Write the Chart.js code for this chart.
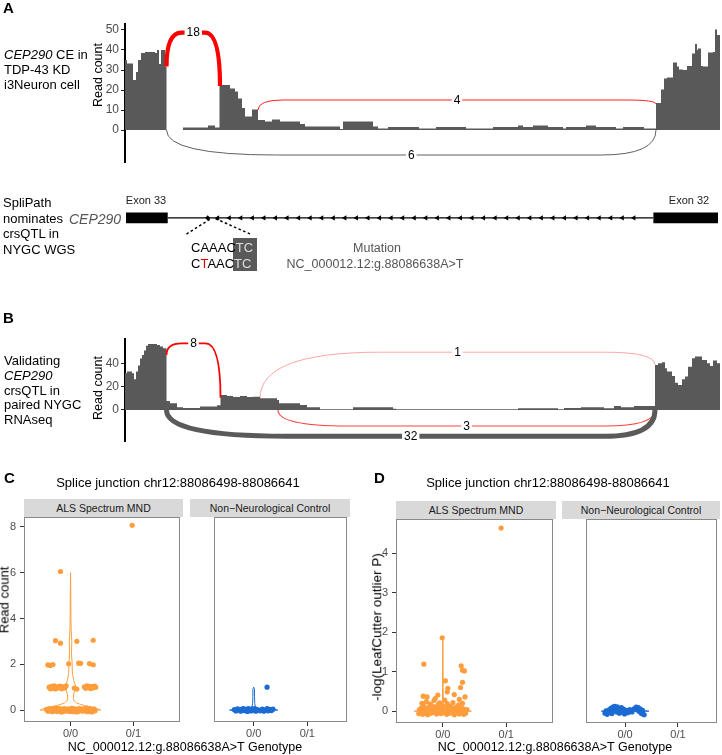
<!DOCTYPE html>
<html><head><meta charset="utf-8">
<script src="https://cdn.jsdelivr.net/npm/chart.js@4.4.1/dist/chart.umd.min.js"></script>
<style>
html,body{margin:0;padding:0;background:#fff;}
body{width:722px;height:755px;position:relative;overflow:hidden;font-family:"Liberation Sans",Arial,sans-serif;color:#000;}
canvas{position:absolute;}
.L{position:absolute;white-space:nowrap;transform:translateY(-50%);line-height:1.15;}
.C{position:absolute;white-space:nowrap;transform:translate(-50%,-50%);line-height:1.15;}
.R{position:absolute;white-space:nowrap;transform:translate(-50%,-50%) rotate(-90deg);line-height:1.15;}
.blk{position:absolute;white-space:nowrap;}
.lt{font-weight:bold;font-size:15px;}
.strip{position:absolute;background:#d9d9d9;box-sizing:border-box;font-size:10.5px;color:#1a1a1a;display:flex;align-items:center;justify-content:center;white-space:nowrap;}
</style></head><body>
<canvas id="cA" width="722" height="190" style="left:0;top:0"></canvas>
<canvas id="cG" width="722" height="50" style="left:0;top:195px"></canvas>
<canvas id="cB" width="722" height="160" style="left:0;top:300px"></canvas>
<canvas id="cC1" width="184" height="237" style="left:0;top:505px"></canvas>
<canvas id="cC2" width="161" height="237" style="left:190px;top:505px"></canvas>
<canvas id="cD1" width="185" height="236" style="left:372px;top:507px"></canvas>
<canvas id="cD2" width="159" height="236" style="left:562px;top:507px"></canvas>

<div class="L lt" style="left:3px;top:8px">A</div>
<div class="blk" style="left:4px;top:46.5px;line-height:15px;font-size:13px"><i>CEP290</i> CE in<br>TDP-43 KD<br>i3Neuron cell</div>
<div class="R" style="left:98px;top:75px;font-size:12.5px">Read count</div>

<div class="blk" style="left:3px;top:195.2px;line-height:15.6px;font-size:13px">SpliPath<br>nominates<br>crsQTL in<br>NYGC WGS</div>
<div class="L" style="left:69px;top:219px;font-size:14px;font-style:italic;color:#555">CEP290</div>
<div class="C" style="left:146px;top:200px;font-size:11px;color:#222">Exon 33</div>
<div class="C" style="left:689px;top:200px;font-size:11px;color:#222">Exon 32</div>
<div style="position:absolute;left:233px;top:238px;width:24px;height:33px;background:#595959"></div>
<div class="L" style="left:191px;top:248px;font-size:13px">CAAAC<span style="color:#ddd">TC</span></div>
<div class="L" style="left:191px;top:264px;font-size:13px">C<span style="color:#e60000">T</span>AAC<span style="color:#ddd">TC</span></div>
<div class="C" style="left:377px;top:248px;font-size:12.5px;color:#555">Mutation</div>
<div class="C" style="left:375px;top:264px;font-size:12.5px;color:#555">NC_000012.12:g.88086638A&gt;T</div>

<div class="L lt" style="left:3px;top:318px">B</div>
<div class="blk" style="left:4px;top:354.4px;line-height:14.65px;font-size:13px">Validating<br><i>CEP290</i><br>crsQTL in<br>paired NYGC<br>RNAseq</div>
<div class="R" style="left:98px;top:388px;font-size:12.5px">Read count</div>

<div class="L lt" style="left:4px;top:478px">C</div>
<div class="C" style="left:178px;top:483px;font-size:13px">Splice junction chr12:88086498-88086641</div>
<div class="strip" style="left:24px;top:499px;width:159px;height:18px">ALS Spectrum MND</div>
<div class="strip" style="left:190px;top:499px;width:160px;height:18px">Non−Neurological Control</div>
<div class="R" style="left:5px;top:600px;font-size:13px">Read count</div>
<div class="C" style="left:185px;top:747px;font-size:12.5px">NC_000012.12:g.88086638A&gt;T Genotype</div>

<div class="L lt" style="left:374px;top:478px">D</div>
<div class="C" style="left:548px;top:483px;font-size:13px">Splice junction chr12:88086498-88086641</div>
<div class="strip" style="left:396px;top:501px;width:160px;height:18px">ALS Spectrum MND</div>
<div class="strip" style="left:562px;top:501px;width:158px;height:18px">Non−Neurological Control</div>
<div class="R" style="left:377px;top:627px;font-size:13.5px">-log(LeafCutter outlier P)</div>
<div class="C" style="left:555px;top:747px;font-size:12.5px">NC_000012.12:g.88086638A&gt;T Genotype</div>

<script>
// ================= DATA =================
// Panel A coverage: step breakpoints (relative genomic position) and read counts (value holds until next breakpoint)
const covA_pos = [0,2,8,11,13,16,20,30,32,34,36,40,41.5,58,83,90,94.5,105,110,113,117,120,127,133,140,147,155,175,180,215,218,248,253,263,294,311,341,368,393,398,408,423,438,441,461,471,491,498,519,531,536,539,542,548,552,554,558,562,567,570,572,573,576,578,583,588,590,592,595];
const covA_val = [35,33.3,25,29,35,38.5,39,38.5,40,33,40,31.7,0,1.3,2.3,1.3,22.5,20.8,19.2,15.8,11,6.7,10.3,5,4.2,5.3,4.2,3,1.7,0.5,4.2,1.7,0.7,1.5,0.8,1.5,0.8,1.5,2.3,1.5,2.3,1.5,0.8,1.5,2.3,1.5,0.8,1.5,0.8,13.5,20.3,25.8,26.3,33.7,31.7,30.3,30,32,38.3,43,40,40.8,32,31.7,38.7,39,50.3,47.5,47.5];
// Panel A junctions
const junA_start = [41.5, 133, 41.5];
const junA_end   = [95, 531, 531];
const junA_count = [18, 4, 6];
const junA_y0    = [31.7, 10, 0];
const junA_y1    = [22, 13, 0];
const junA_apex  = [48.7, 15, -12.5];
const ticksA = [0,10,20,30,40,50];

// Panel B coverage
const covB_pos = [0,2,7,9,11,13,15,17,19,21,23,32,35,38,41.5,45,52,58,75,92,95.5,102,108,115,122,128,135,152,154,175,182,195,228,268,271,393,433,439,456,479,489,496,509,530,533,537,540,542,547,550,553,557,560,563,567,570,577,582,585,588,592,595];
const covB_val = [31.4,32.9,31.4,26.3,33,38,44,47,51,55,56.6,55.7,54.3,52.8,7.7,5.7,2.3,1.7,2.9,4,12.9,12,11,12,11,11.4,10,8.6,5.7,4.3,2.3,0.5,2.3,1.1,0.5,1.4,0.5,1.7,2.3,1.4,3.4,2.3,3.4,38.6,40,40.9,35.7,32.9,29.1,23.4,21.4,26.3,28.6,37.1,44.3,45.7,42.9,40,37.7,42.3,40,40];
// Panel B junctions
const junB_start = [41.5, 135, 153, 41.5];
const junB_end   = [95.5, 530, 530, 530];
const junB_count = [8, 1, 3, 32];
const junB_y0    = [47, 10, 0, 0];
const junB_y1    = [10.5, 38.6, 0, 0];
const junB_apex  = [57, 49.5, -13.7, -22.5];
const ticksB = [0,20,40];

// Gene model (relative genomic position)
const exon33 = [1, 43];
const exon32 = [530, 595];
const mutationPos = 83;
const strandArrows = [93,104.6,116.2,127.8,139.4,151,162.6,174.2,185.8,197.4,209,220.6,232.2,243.8,255.4,267,278.6,290.2,301.8,313.4,325,336.6,348.2,359.8,371.4,383,394.6,406.2,417.8,429.4,441,452.6,464.2,475.8,487.4,499,510.6];

// Panels C / D
const genotypes = ['0/0','0/1'];
// C: ALS Spectrum MND read counts (x = genotype index + jitter)
const cAls_x = [0.62,0.64,0.66,0.67,0.69,0.71,0.72,0.74,0.75,0.77,0.79,0.80,0.82,0.83,0.85,0.87,0.88,0.90,0.91,0.93,0.95,0.96,0.98,0.99,1.01,1.03,1.04,1.06,1.07,1.09,1.11,1.12,1.14,1.15,1.17,1.19,1.20,1.22,1.23,1.25,1.27,1.28,1.30,1.31,1.33,1.35,1.37,1.39,0.65,0.78,0.86,0.94,1.02,1.10,1.18,1.26,1.34,0.70,1.00,1.13,
  0.66,0.68,0.70,0.72,0.74,0.76,0.79,0.81,0.83,0.86,0.88,0.91,0.93,1.06,1.10,1.22,1.24,1.26,1.28,1.30,1.32,1.34,1.36,1.38,1.40,
  0.64,0.68,0.72,0.97,1.13,1.16,1.30,1.36,
  0.76,0.84,1.10,1.36,
  0.84,
  1.98];
const cAls_y = [0.03,-0.05,0.06,-0.02,0.04,-0.07,0.01,0.07,-0.04,0.02,-0.06,0.05,-0.01,0.06,-0.07,0.03,-0.03,0.07,-0.05,0.02,-0.02,0.05,-0.06,0.04,-0.03,0.06,-0.07,0.01,0.05,-0.04,0.03,-0.06,0.07,-0.01,0.04,-0.05,0.02,0.06,-0.03,0.05,-0.07,0.01,0.06,-0.04,0.03,-0.02,0.05,-0.03,0.0,0.08,-0.08,0.0,0.08,-0.08,0.0,0.08,-0.08,0.0,0.0,0.0,
  1.0,0.93,1.04,0.95,1.06,0.92,1.02,0.97,1.05,0.93,1.03,0.97,1.06,0.96,0.92,1.02,0.95,1.06,0.99,1.04,0.94,1.03,0.97,1.05,1.0,
  1.97,1.95,1.99,2.02,2.05,2.04,2.03,1.98,
  3.03,2.92,3.0,3.05,
  6.05,
  8.07];
// C: Non-Neurological Control read counts
const cCtl_x = [0.64,0.67,0.70,0.73,0.76,0.78,0.81,0.83,0.86,0.88,0.90,0.92,0.95,0.97,0.99,1.02,1.04,1.07,1.12,1.16,1.19,1.22,1.25,1.27,1.30,1.33,1.36,1.25];
const cCtl_y = [0.02,-0.04,0.05,0.0,-0.05,0.04,0.07,-0.02,0.03,-0.06,0.06,0.01,-0.04,0.05,-0.01,0.06,-0.05,0.02,-0.03,0.04,-0.05,0.01,0.06,-0.03,0.03,-0.02,0.04,1.0];
// C violins (genotype 0/0): levels and half widths
const vCAls_y = [0,0.05,0.1,0.15,0.2,0.3,0.4,0.5,0.7,0.9,1.0,1.1,1.3,1.6,2,2.5,3,3.5,4,5,6];
const vCAls_w = [0.48,0.44,0.38,0.3,0.22,0.1,0.06,0.045,0.05,0.075,0.08,0.075,0.05,0.03,0.025,0.015,0.02,0.01,0.006,0.004,0];
const vCCtl_y = [0,0.03,0.08,0.15,0.3,0.6,0.9,1.0];
const vCCtl_w = [0.45,0.3,0.08,0.03,0.02,0.015,0.015,0];
// D: ALS -log(LeafCutter outlier P)
const dAls_x = [0.62,0.63,0.65,0.66,0.68,0.69,0.70,0.72,0.73,0.75,0.76,0.78,0.79,0.81,0.82,0.84,0.85,0.87,0.88,0.90,0.91,0.93,0.94,0.96,0.97,0.99,1.00,1.02,1.03,1.05,1.06,1.08,1.09,1.11,1.12,1.14,1.15,1.17,1.18,1.20,1.21,1.23,1.24,1.26,1.27,1.29,1.30,1.32,1.33,1.35,1.36,1.38,0.67,0.74,0.80,0.86,0.95,1.07,1.16,1.25,1.31,
  0.99,0.70,1.29,1.31,1.34,1.04,1.31,1.08,1.07,1.28,1.18,0.92,0.75,1.35,1.03,0.88,1.26,0.69,
  1.92];
const dAls_y = [-0.06,0.04,-0.02,0.08,-0.08,0.02,0.12,-0.04,0.06,0.0,-0.09,0.1,0.03,-0.05,0.14,0.07,-0.03,0.01,0.11,-0.07,0.05,0.17,-0.01,0.08,-0.06,0.03,0.13,-0.04,0.06,0.0,-0.08,0.09,0.02,-0.05,0.12,0.04,-0.02,0.07,-0.09,0.01,0.1,-0.04,0.05,-0.07,0.03,0.09,-0.02,0.06,-0.08,0.02,-0.05,0.04,0.2,0.24,0.18,0.27,0.21,0.19,0.22,0.16,0.2,
  1.86,1.19,1.15,1.04,1.02,0.77,0.73,0.58,0.49,0.60,0.42,0.41,0.36,0.36,0.28,0.32,0.30,0.38,
  4.64];
// D: Control
const dCtl_x = [0.62,0.64,0.66,0.69,0.71,0.73,0.75,0.77,0.79,0.80,0.82,0.84,0.85,0.87,0.89,0.91,0.93,0.95,0.97,0.99,1.02,1.05,1.09,1.13,1.17,1.21,1.23,1.25,1.27,1.29,1.31,1.33,1.36];
const dCtl_y = [-0.05,0.01,-0.08,0.03,-0.03,0.07,-0.06,0.1,0.02,0.12,0.05,-0.02,0.11,0.08,-0.05,0.03,0.09,-0.03,0.05,-0.07,0.02,-0.04,0.04,-0.02,0.06,0.1,0.03,0.09,-0.01,0.05,-0.06,0.02,-0.09];
const vDAls_y = [0,0.01,0.03,0.06,0.12,0.3,0.6,1,1.5,1.86];
const vDAls_w = [0.45,0.32,0.1,0.03,0.01,0.006,0.005,0.004,0.003,0];
const vDCtl_y = [0,0.01,0.025,0.05];
const vDCtl_w = [0.45,0.3,0.12,0];

// ================= DRAWING =================
const FONT = '"Liberation Sans", Arial, sans-serif';
Chart.defaults.font.family = FONT;
Chart.defaults.animation = false;
const ORANGE = '#ff9d3c', BLUE = '#1b6bd3', COV = '#595959';

const toXY = (xs, ys) => xs.map((x, i) => ({x: x, y: ys[i]}));
// step outline: each value spans from its breakpoint to the next breakpoint
function stepXY(pos, val) {
  const out = [];
  for (let i = 0; i < pos.length - 1; i++) { out.push({x: pos[i], y: val[i]}); out.push({x: pos[i + 1], y: val[i]}); }
  return out;
}

function arcPlugin(J, S) {
  return {id: 'arcs', afterDatasetsDraw(chart) {
    const ctx = chart.ctx, x = chart.scales.x, y = chart.scales.y;
    ctx.save();
    J.start.forEach((s, i) => {
      const x1 = x.getPixelForValue(s), x2 = x.getPixelForValue(J.end[i]);
      const y1 = y.getPixelForValue(J.y0[i]), y2 = y.getPixelForValue(J.y1[i]), ya = y.getPixelForValue(J.apex[i]);
      const st = S[i];
      ctx.beginPath();
      ctx.moveTo(x1, y1);
      ctx.quadraticCurveTo(x1, ya, x1 + st.rL, ya);
      ctx.lineTo(x2 - st.rR, ya);
      ctx.quadraticCurveTo(x2, ya, x2, y2);
      ctx.strokeStyle = st.color; ctx.lineWidth = st.w; ctx.stroke();
    });
    ctx.font = '12px ' + FONT; ctx.textAlign = 'center'; ctx.textBaseline = 'middle';
    J.start.forEach((s, i) => {
      const xm = x.getPixelForValue((s + J.end[i]) / 2), ym = y.getPixelForValue(J.apex[i]);
      const t = String(J.count[i]); const w = ctx.measureText(t).width + 4;
      ctx.fillStyle = '#fff'; ctx.fillRect(xm - w / 2, ym - 6, w, 12);
      ctx.fillStyle = '#000'; ctx.fillText(t, xm, ym + 0.5);
    });
    ctx.restore();
  }};
}

function coverageChart(id, pos, val, yMin, yMax, yTicks, padTop, padBottom, J, S) {
  new Chart(document.getElementById(id), {
    type: 'line',
    data: {datasets: [{data: stepXY(pos, val), fill: 'origin', backgroundColor: COV, borderWidth: 0, pointRadius: 0, tension: 0}]},
    options: {
      responsive: false, animation: false, events: [],
      layout: {padding: {left: 0, right: 2, top: padTop, bottom: padBottom}},
      plugins: {legend: {display: false}, tooltip: {enabled: false}},
      scales: {
        x: {type: 'linear', display: false, min: 0, max: 595},
        y: {type: 'linear', min: yMin, max: yMax,
            afterFit: s => { s.width = 125; },
            afterBuildTicks: s => { s.ticks = yTicks.map(v => ({value: v})); },
            border: {display: true, color: '#000', width: 2},
            grid: {display: true, drawOnChartArea: false, drawTicks: true, tickLength: 4, color: '#222'},
            ticks: {font: {size: 12}, color: '#4d4d4d', padding: 2}}
      }
    },
    plugins: [arcPlugin(J, S)]
  });
}

coverageChart('cA', covA_pos, covA_val, -16, 53, ticksA, 24, 28,
  {start: junA_start, end: junA_end, count: junA_count, y0: junA_y0, y1: junA_y1, apex: junA_apex},
  [{color: '#ff0000', w: 4.2, rL: 15, rR: 15},
   {color: '#ff2020', w: 1, rL: 25, rR: 30},
   {color: '#606060', w: 1, rL: 110, rR: 55}]);

coverageChart('cB', covB_pos, covB_val, -26.6, 60.8, ticksB, 39, 19,
  {start: junB_start, end: junB_end, count: junB_count, y0: junB_y0, y1: junB_y1, apex: junB_apex},
  [{color: '#ff0000', w: 1.8, rL: 15, rR: 15},
   {color: 'rgba(255,0,0,0.35)', w: 1, rL: 120, rR: 50},
   {color: 'rgba(255,0,0,0.75)', w: 1.1, rL: 70, rR: 50},
   {color: '#5a5a5a', w: 5, rL: 120, rR: 50}]);

// Gene model
new Chart(document.getElementById('cG'), {
  type: 'line',
  data: {datasets: [
    {data: [{x: exon33[0], y: 16}, {x: exon33[1], y: 16}], fill: {value: 29}, backgroundColor: '#000', borderWidth: 0, pointRadius: 0},
    {data: [{x: exon32[0], y: 16}, {x: exon32[1], y: 16}], fill: {value: 29}, backgroundColor: '#000', borderWidth: 0, pointRadius: 0},
    {data: [{x: exon33[1], y: 22.5}, {x: exon32[0], y: 22.5}], borderColor: '#000', borderWidth: 1.3, pointRadius: 0, fill: false},
    {data: strandArrows.map(p => ({x: p, y: 22.5})), showLine: false, pointStyle: 'triangle', rotation: -90, pointRadius: 3, backgroundColor: '#000', borderWidth: 0},
    {data: [{x: mutationPos, y: 22.5}], showLine: false, pointStyle: 'rectRot', pointRadius: 2.6, backgroundColor: '#000', borderWidth: 0},
    {data: [{x: 61.7, y: 41.7}, {x: mutationPos + 3, y: 23.5}], borderColor: '#000', borderWidth: 1.5, borderDash: [2.5, 2.5], pointRadius: 0, fill: false},
    {data: [{x: mutationPos + 8, y: 23.5}, {x: 125.7, y: 41.7}], borderColor: '#000', borderWidth: 1.5, borderDash: [2.5, 2.5], pointRadius: 0, fill: false}
  ]},
  options: {
    responsive: false, animation: false, events: [],
    layout: {padding: {left: 125, right: 2, top: 0, bottom: 0}},
    plugins: {legend: {display: false}, tooltip: {enabled: false}},
    scales: {
      x: {type: 'linear', display: false, min: 0, max: 595},
      y: {type: 'linear', display: false, min: 0, max: 50, reverse: true}
    }
  }
});

// Facets
const panelBorder = {id: 'pb', afterDatasetsDraw(chart) {
  const a = chart.chartArea, c = chart.ctx;
  c.save(); c.strokeStyle = '#8a8a8a'; c.lineWidth = 1;
  c.strokeRect(Math.round(a.left) + 0.5, Math.round(a.top) + 0.5, Math.round(a.right - a.left) - 1, Math.round(a.bottom - a.top) - 1);
  c.restore();
}};
function violinPlugin(vy, vw, color) {
  return {id: 'vio', beforeDatasetsDraw(chart) {
    const c = chart.ctx, x = chart.scales.x, y = chart.scales.y, cx = 1;
    c.save(); c.beginPath();
    vy.forEach((yy, i) => { const px = x.getPixelForValue(cx - vw[i]), py = y.getPixelForValue(yy); i ? c.lineTo(px, py) : c.moveTo(px, py); });
    for (let i = vy.length - 1; i >= 0; i--) c.lineTo(x.getPixelForValue(cx + vw[i]), y.getPixelForValue(vy[i]));
    c.closePath(); c.lineJoin = 'round'; c.strokeStyle = color; c.lineWidth = 1; c.stroke();
    c.restore();
  }};
}
function facet(id, xs, ys, color, vy, vw, yMin, yMax, yTicks, showY, padTop) {
  new Chart(document.getElementById(id), {
    type: 'scatter',
    data: {datasets: [{data: toXY(xs, ys), backgroundColor: color, borderWidth: 0, pointRadius: 2.6}]},
    options: {
      responsive: false, animation: false, events: [],
      layout: {padding: {left: 0, right: 1, top: padTop, bottom: 0}},
      plugins: {legend: {display: false}, tooltip: {enabled: false}},
      scales: {
        x: {type: 'linear', min: 0.26, max: 2.74,
            afterFit: s => { s.height = 20; },
            afterBuildTicks: s => { s.ticks = genotypes.map((g, i) => ({value: i + 1})); },
            border: {display: false},
            grid: {display: true, drawOnChartArea: false, drawTicks: true, tickLength: 4, color: '#333'},
            ticks: {font: {size: 11}, color: '#4d4d4d', padding: 1, maxRotation: 0, callback: (v, i) => genotypes[i]}},
        y: {type: 'linear', min: yMin, max: yMax, display: showY,
            afterFit: s => { s.width = 24; },
            afterBuildTicks: s => { s.ticks = yTicks.map(v => ({value: v})); },
            border: {display: false},
            grid: {display: true, drawOnChartArea: false, drawTicks: true, tickLength: 4, color: '#333'},
            ticks: {font: {size: 11}, color: '#4d4d4d', padding: 4}}
      }
    },
    plugins: [violinPlugin(vy, vw, color), panelBorder]
  });
}
facet('cC1', cAls_x, cAls_y, ORANGE, vCAls_y, vCAls_w, -0.52, 8.43, [0,2,4,6,8], true, 12);
facet('cC2', cCtl_x, cCtl_y, BLUE, vCCtl_y, vCCtl_w, -0.52, 8.43, [0,2,4,6,8], false, 12);
facet('cD1', dAls_x, dAls_y, ORANGE, vDAls_y, vDAls_w, -0.30, 4.87, [0,1,2,3,4], true, 12);
facet('cD2', dCtl_x, dCtl_y, BLUE, vDCtl_y, vDCtl_w, -0.30, 4.87, [0,1,2,3,4], false, 12);
</script>
</body></html>
